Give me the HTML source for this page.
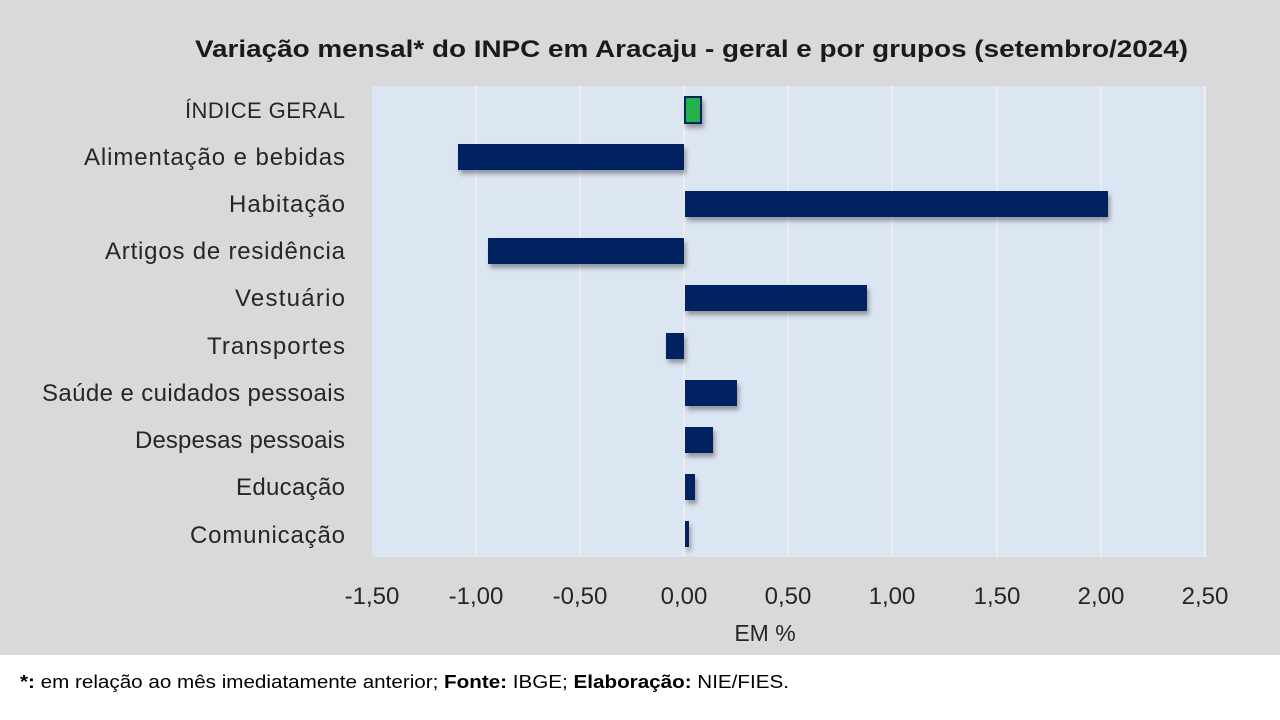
<!DOCTYPE html><html><head><meta charset="utf-8"><style>
body{margin:0;width:1280px;height:720px;background:#fff;overflow:hidden;font-family:"Liberation Sans",sans-serif}
svg{display:block}
</style></head><body>
<svg width="1280" height="720" xmlns="http://www.w3.org/2000/svg" font-family="Liberation Sans, sans-serif">
<defs><filter id="s" x="-20%" y="-20%" width="140%" height="160%"><feDropShadow dx="2" dy="4" stdDeviation="2.5" flood-color="#000" flood-opacity="0.35"/></filter></defs>
<rect x="0" y="0" width="1280" height="655" fill="#d9d9d9"/>
<rect x="0" y="655" width="1280" height="65" fill="#ffffff"/>
<text x="195" y="57" textLength="993" lengthAdjust="spacingAndGlyphs" font-size="24" font-weight="bold" fill="#1a1a1a">Variação mensal* do INPC em Aracaju - geral e por grupos (setembro/2024)</text>
<rect x="372" y="86" width="833" height="471" fill="#dce6f2"/>
<g stroke="#eeeeee" stroke-width="2">
<line x1="476" y1="86" x2="476" y2="557"/><line x1="580" y1="86" x2="580" y2="557"/><line x1="684" y1="86" x2="684" y2="557"/><line x1="788" y1="86" x2="788" y2="557"/><line x1="892" y1="86" x2="892" y2="557"/><line x1="997" y1="86" x2="997" y2="557"/><line x1="1101" y1="86" x2="1101" y2="557"/><line x1="1205" y1="86" x2="1205" y2="557"/>
</g>
<g filter="url(#s)" fill="#002060">
<rect x="685" y="97" width="16" height="26" fill="#21b24b" stroke="#002060" stroke-width="2"/>
<rect x="458" y="144" width="226" height="26"/>
<rect x="685" y="191" width="423" height="26"/>
<rect x="488" y="238" width="196" height="26"/>
<rect x="685" y="285" width="182" height="26"/>
<rect x="666" y="333" width="18" height="26"/>
<rect x="685" y="380" width="52" height="26"/>
<rect x="685" y="427" width="28" height="26"/>
<rect x="685" y="474" width="10" height="26"/>
<rect x="685" y="521" width="4" height="26"/>
</g>
<g font-size="24" fill="#262626" lengthAdjust="spacingAndGlyphs">
<text x="185" y="118" textLength="160" font-size="22">ÍNDICE GERAL</text>
<text x="84" y="165" textLength="261">Alimentação e bebidas</text>
<text x="229" y="212" textLength="116">Habitação</text>
<text x="105" y="259" textLength="240">Artigos de residência</text>
<text x="235" y="306" textLength="110">Vestuário</text>
<text x="207" y="354" textLength="138">Transportes</text>
<text x="42" y="401" textLength="303">Saúde e cuidados pessoais</text>
<text x="135" y="448" textLength="210">Despesas pessoais</text>
<text x="236" y="495" textLength="109">Educação</text>
<text x="190" y="543" textLength="155">Comunicação</text>
</g>
<g font-size="24" fill="#262626" text-anchor="middle">
<text x="372" y="604">-1,50</text><text x="476" y="604">-1,00</text><text x="580" y="604">-0,50</text><text x="684" y="604">0,00</text><text x="788" y="604">0,50</text><text x="892" y="604">1,00</text><text x="997" y="604">1,50</text><text x="1101" y="604">2,00</text><text x="1205" y="604">2,50</text>
<text x="765" y="641" font-size="23">EM %</text>
</g>
<text x="20" y="688" font-size="18" fill="#000" textLength="769" lengthAdjust="spacingAndGlyphs"><tspan font-weight="bold">*:</tspan> em relação ao mês imediatamente anterior; <tspan font-weight="bold">Fonte:</tspan> IBGE; <tspan font-weight="bold">Elaboração:</tspan> NIE/FIES.</text>
</svg>
</body></html>
